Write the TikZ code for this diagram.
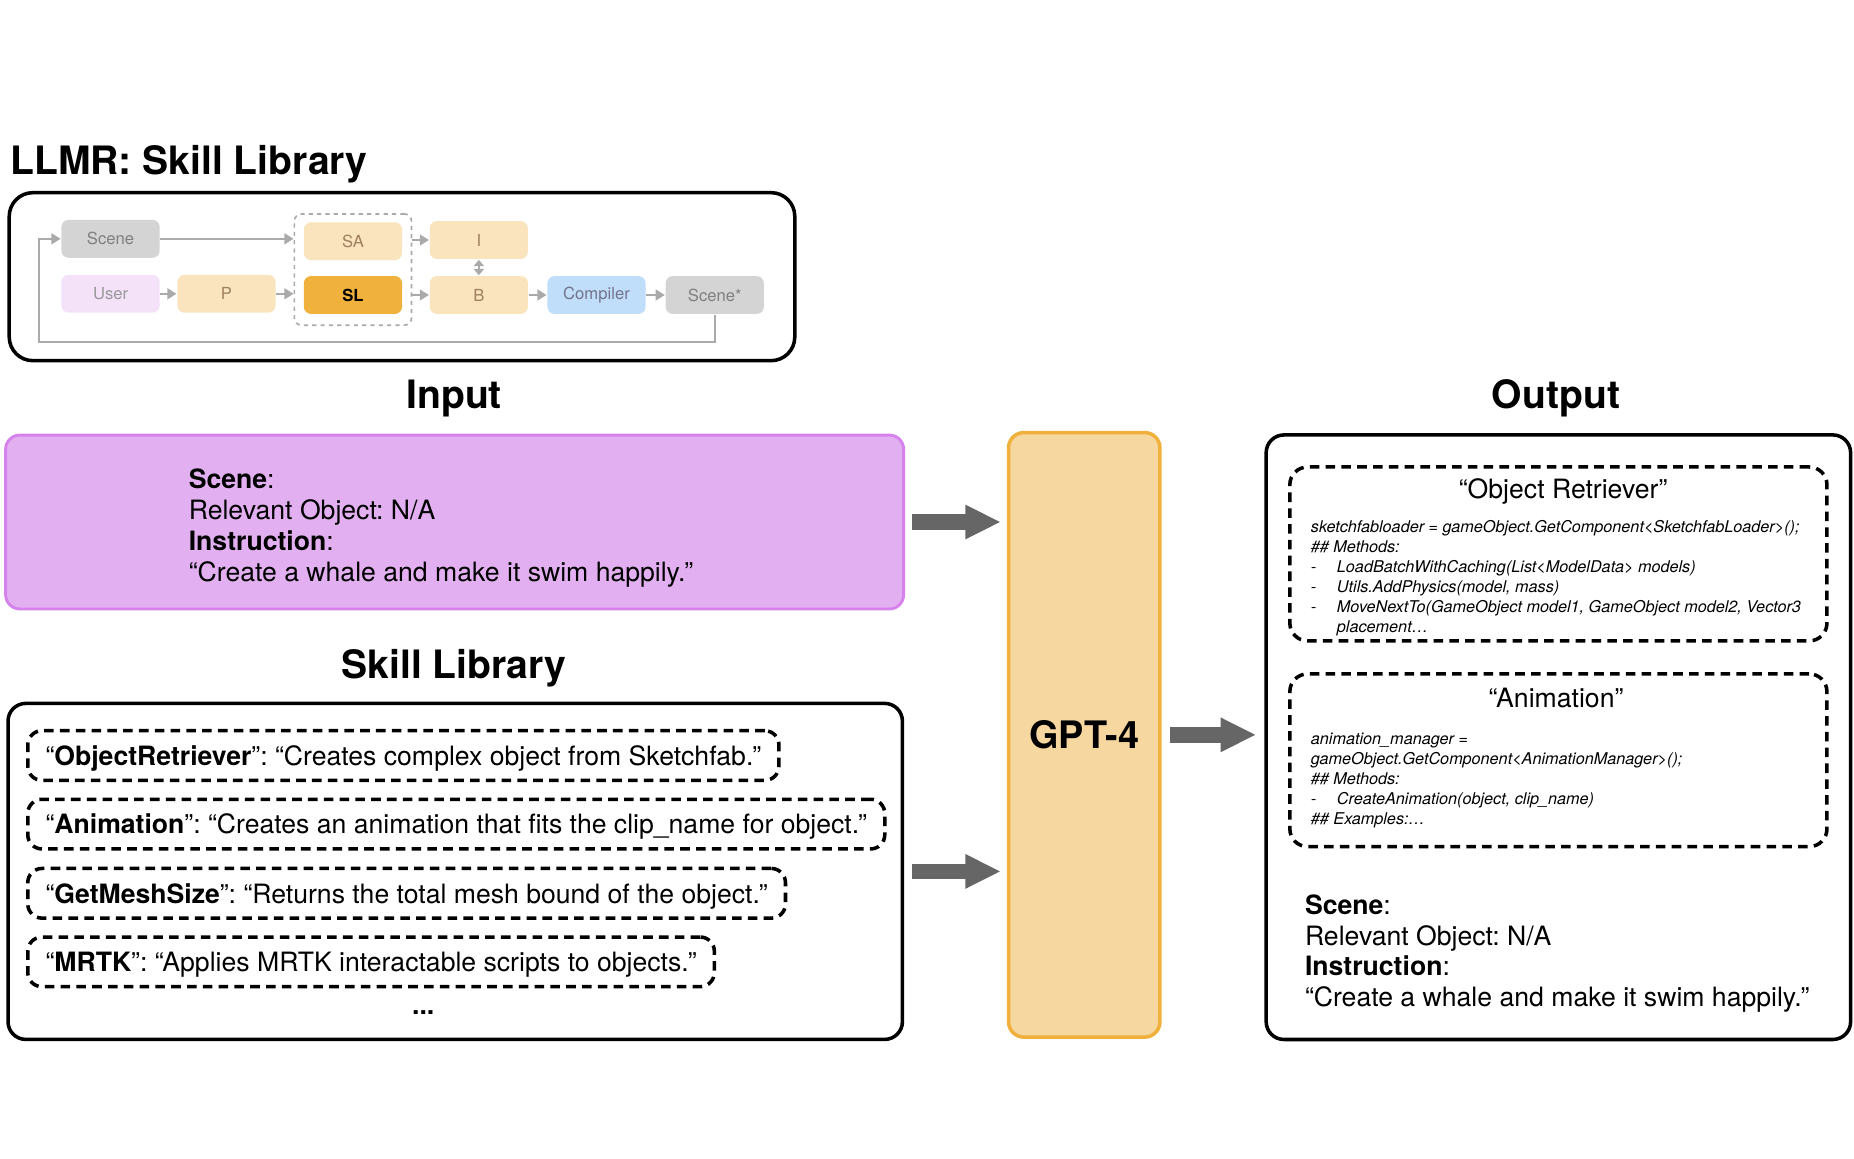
\documentclass[tikz,border=0pt]{standalone}
\usepackage{fontspec}
\setmainfont{TeX Gyre Heros}
\usetikzlibrary{arrows.meta}
\usetikzlibrary{scopes}
\usepackage{xcolor}
\frenchspacing

\newcommand{\itm}[1]{\makebox[0.22cm][l]{-}#1}

\begin{document}
\begin{tikzpicture}[x=0.01cm,y=-0.01cm]

\definecolor{lorg}{RGB}{250,228,190};
\definecolor{dorg}{RGB}{240,178,60};
\definecolor{lpur}{RGB}{243,226,248};
\definecolor{lgry}{RGB}{212,212,212};
\definecolor{lblu}{RGB}{192,222,250};
\definecolor{sgry}{RGB}{170,170,170};
\definecolor{pfill}{RGB}{226,176,240};
\definecolor{pdraw}{RGB}{214,130,236};
\definecolor{gfill}{RGB}{247,215,160};
\definecolor{gdraw}{RGB}{240,176,60};
\definecolor{agry}{RGB}{102,102,102};

\tikzset{
  sbox/.style={rounded corners=0.06cm, minimum width=0.83cm, minimum height=0.32cm, inner sep=0pt, font=\fontsize{4}{4.8}\selectfont},
  sarr/.style={draw=sgry, line width=0.5pt, -{Triangle[length=2.2pt,width=2.6pt]}},
  hdr/.style={font=\fontsize{9.4}{11}\selectfont\bfseries, inner sep=0pt},
  body/.style={font=\fontsize{6.4}{7.4}\selectfont, align=left, inner sep=0pt, anchor=north west},
  code/.style={font=\fontsize{3.9}{4.84}\selectfont\itshape, align=left, inner sep=0pt, anchor=north west},
  skill/.style={draw, line width=0.85pt, dash pattern=on 2.3pt off 1.5pt, rounded corners=0.12cm, anchor=west, minimum height=0.42cm, inner xsep=0.15cm, inner ysep=0pt, text height=0.165cm, text depth=0pt, font=\fontsize{6.4}{7.4}\selectfont},
  bigarr/.style={draw=agry, line width=0.13cm, -{Triangle[length=0.3cm,width=0.27cm]}}
}

\useasboundingbox (0,0) rectangle (1568,980);

%LLMR overview
\node[hdr, anchor=base west] (ttl) at (8,148) {LLMR: Skill Library};
\node[draw, line width=0.85pt, rounded corners=0.2cm, minimum width=6.64cm, minimum height=1.42cm] (llmr) at (340,234) {};

\node[draw=sgry, line width=0.4pt, dash pattern=on 1pt off 1pt, rounded corners=0.06cm, minimum width=0.99cm, minimum height=0.94cm] (grp) at (298.5,228) {};

{[text=gray]
	\node[sbox, fill=lgry] (scn) at (93.5,202) {Scene};
	\node[sbox, fill=lpur, text=gray!80] (usr) at (93.5,248.5) {User};
	\node[sbox, fill=lorg, text=brown!50!gray] (pp) at (191.5,248.5) {P};
	\node[sbox, fill=lorg, text=brown!50!gray] (sa) at (298.5,204) {SA};
	\node[sbox, fill=dorg, text=black, font=\fontsize{4}{4.8}\selectfont\bfseries] (sl) at (298.5,249.5) {SL};
	\node[sbox, fill=lorg, text=brown!50!gray] (ii) at (405,203) {I};
	\node[sbox, fill=lorg, text=brown!50!gray] (bb) at (405,249.5) {B};
	\node[sbox, fill=lblu, text=gray!90!blue] (cmp) at (504.5,249.5) {Compiler};
	\node[sbox, fill=lgry] (scn2) at (604.5,249.5) {Scene*};
}

\coordinate (lp) at (33,289);
{[sarr]
	\draw (scn.east) -- (grp.west |- scn.east);
	\draw (usr) -- (pp);
	\draw (pp.east) -- (grp.west |- pp.east);
	\draw (grp.east |- ii.west) -- (ii.west);
	\draw (grp.east |- bb.west) -- (bb.west);
	\draw[{Triangle[length=1.5pt,width=2.4pt]}-{Triangle[length=1.5pt,width=2.4pt]}] (ii.south) -- (bb.north);
	\draw (bb) -- (cmp);
	\draw (cmp) -- (scn2);
	\draw (scn2.south) |- (lp) |- (scn.west);
}

%input
\node[hdr] (intl) at (384,337) {Input};
\node[draw=pdraw, fill=pfill, line width=0.7pt, rounded corners=0.12cm, minimum width=7.59cm, minimum height=1.47cm] (inp) at (384.5,441.5) {};
\node[body] (intx) at (159,396) {\textbf{Scene}:\\Relevant Object: N/A\\\textbf{Instruction}:\\“Create a whale and make it swim happily.”};

%skill library
\node[hdr] (sktl) at (384,565) {Skill Library};
\node[draw, line width=0.85pt, rounded corners=0.15cm, minimum width=7.56cm, minimum height=2.84cm] (skl) at (385,737) {};
\node[skill] (s1) at (22,639) {“\textbf{ObjectRetriever}”: “Creates complex object from Sketchfab.”};
\node[skill] (s2) at (22,697) {“\textbf{Animation}”: “Creates an animation that fits the clip\_name for object.”};
\node[skill] (s3) at (22,755.5) {“\textbf{GetMeshSize}”: “Returns the total mesh bound of the object.”};
\node[skill] (s4) at (22,813.5) {“\textbf{MRTK}”: “Applies MRTK interactable scripts to objects.”};
\node[font=\fontsize{6.4}{7.4}\selectfont\bfseries, inner sep=0pt] (dots) at (358,856) {...};

%gpt
\node[draw=gdraw, fill=gfill, line width=0.85pt, rounded corners=0.13cm, minimum width=1.28cm, minimum height=5.11cm, font=\fontsize{9.1}{11}\selectfont\bfseries] (gpt) at (917,621.5) {GPT-4};

%output
\node[hdr] (outl) at (1316,337) {Output};
\node[draw, line width=0.85pt, rounded corners=0.15cm, minimum width=4.94cm, minimum height=5.11cm] (out) at (1318,623.5) {};

\node[draw, line width=0.85pt, dash pattern=on 2.3pt off 1.5pt, rounded corners=0.15cm, minimum width=4.54cm, minimum height=1.47cm] (orb) at (1318,468.5) {};
\node[font=\fontsize{6.4}{7.4}\selectfont, inner sep=0pt] (ortl) at (1322,416) {“Object Retriever”};
\node[code] (orcd) at (1108,439) {sketchfabloader = gameObject.GetComponent<SketchfabLoader>();\\
\#\# Methods:\\
\itm{LoadBatchWithCaching(List<ModelData> models)}\\
\itm{Utils.AddPhysics(model, mass)}\\
\itm{MoveNextTo(GameObject model1, GameObject model2, Vector3}\\
\hspace*{0.22cm}placement…};

\node[draw, line width=0.85pt, dash pattern=on 2.3pt off 1.5pt, rounded corners=0.15cm, minimum width=4.54cm, minimum height=1.46cm] (anb) at (1318,643) {};
\node[font=\fontsize{6.4}{7.4}\selectfont, inner sep=0pt] (antl) at (1316,590) {“Animation”};
\node[code] (ancd) at (1108,619) {animation\_manager =\\
gameObject.GetComponent<AnimationManager>();\\
\#\# Methods:\\
\itm{CreateAnimation(object, clip\_name)}\\
\#\# Examples:…};

\node[body] (outx) at (1103,756) {\textbf{Scene}:\\Relevant Object: N/A\\\textbf{Instruction}:\\“Create a whale and make it swim happily.”};

%arrows
{[bigarr]
	\draw ([xshift=0.06cm]inp.east) -- ([xshift=-0.05cm]gpt.west |- inp.east);
	\draw ([xshift=0.07cm]skl.east) -- ([xshift=-0.05cm]gpt.west |- skl.east);
	\draw ([xshift=0.07cm]gpt.east) -- ([xshift=-0.07cm]out.west |- gpt.east);
}

\end{tikzpicture}
\end{document}
